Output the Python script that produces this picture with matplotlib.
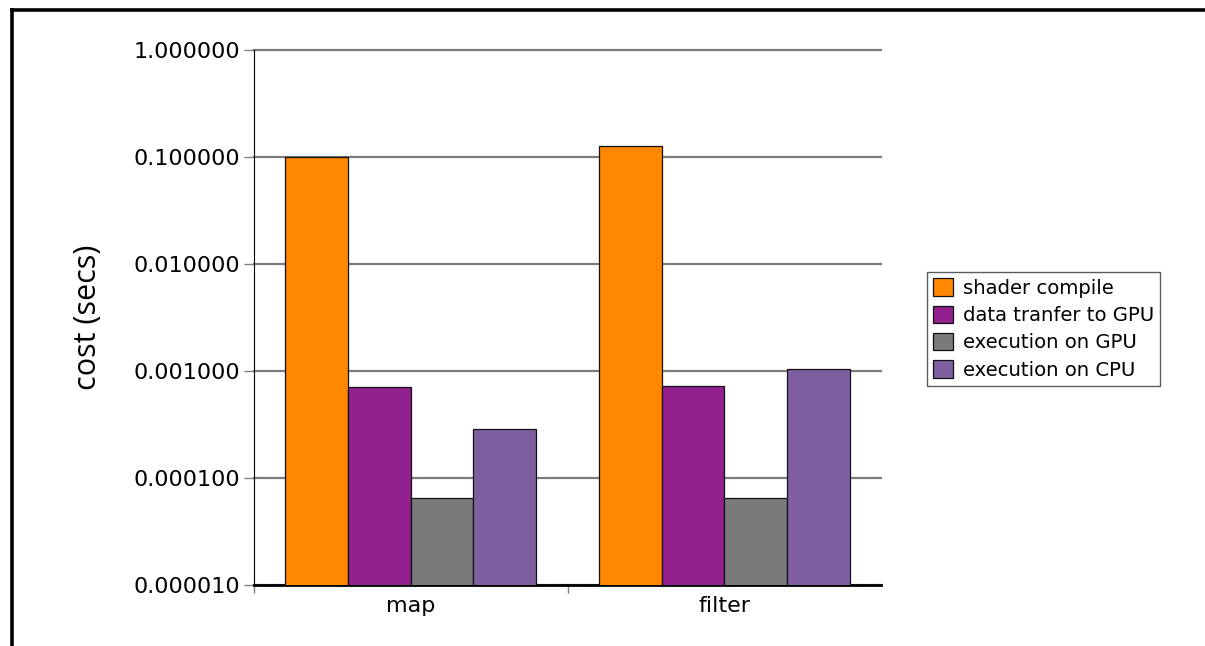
import numpy as np
import matplotlib
matplotlib.use("Agg")
import matplotlib.pyplot as plt
from matplotlib.lines import Line2D
from matplotlib.ticker import FixedLocator, FormatStrFormatter, NullLocator

categories = ["map", "filter"]
series_names = ["shader compile", "data tranfer to GPU", "execution on GPU", "execution on CPU"]
shader_compile = [0.101, 0.126]
data_transfer = [0.000715, 0.000729]
exec_gpu = [0.000065, 0.000065]
exec_cpu = [0.00029, 0.00105]
colors = ["#ff8800", "#92208f", "#7a7a7a", "#7f5fa2"]

fig = plt.figure(figsize=(12.05, 6.46), dpi=100)
ax = fig.add_axes([254 / 1205, 61 / 646, 627 / 1205, 535 / 646])

x = np.arange(len(categories))
width = 0.2
values = [shader_compile, data_transfer, exec_gpu, exec_cpu]
for i, (vals, name, c) in enumerate(zip(values, series_names, colors)):
    ax.bar(x + (i - 1.5) * width, vals, width, color=c, edgecolor="#111111",
           linewidth=0.9, label=name, log=True, zorder=3)

ax.set_yscale("log")
ax.set_ylim(1e-5, 1)
ax.set_xlim(-0.5, 1.5)

ax.yaxis.set_major_locator(FixedLocator([1e-5, 1e-4, 1e-3, 1e-2, 1e-1, 1]))
ax.yaxis.set_minor_locator(NullLocator())
ax.yaxis.set_major_formatter(FormatStrFormatter("%.6f"))
ax.grid(axis="y", color="#7c7c7c", linewidth=1.6, zorder=0)
for gl in ax.get_ygridlines():
    gl.set_clip_on(False)
ax.tick_params(axis="y", direction="out", length=7, width=1, color="#808080",
               labelsize=16, pad=3)

ax.set_xticks(x)
ax.set_xticklabels(categories)
ax.set_xticks([-0.5, 0.5], minor=True)
ax.tick_params(axis="x", which="major", length=0, labelsize=16, pad=8)
ax.tick_params(axis="x", which="minor", length=6, width=1, color="#808080")

for s in ["top", "right"]:
    ax.spines[s].set_visible(False)
ax.spines["left"].set_linewidth(0.8)
ax.spines["bottom"].set_linewidth(2.0)

fig.text(88 / 1205, 1 - 317 / 646, "cost (secs)", rotation=90, ha="center",
         va="center", fontsize=22, family="Open Sans")

leg = fig.legend(loc="upper left", bbox_to_anchor=(927 / 1205, 1 - 272 / 646),
                 fontsize=14.1, frameon=True, fancybox=False, borderaxespad=0,
                 handlelength=1.0, handleheight=1.0, handletextpad=0.5,
                 labelspacing=0.4, borderpad=0.32)
leg.get_frame().set_edgecolor("#333333")
leg.get_frame().set_linewidth(1.0)

# outer frame: top and left edges
fig.add_artist(Line2D([11.5 / 1205, 1], [1 - 9.5 / 646, 1 - 9.5 / 646],
                      transform=fig.transFigure, color="black", linewidth=2.6))
fig.add_artist(Line2D([11.5 / 1205, 11.5 / 1205], [0, 1 - 9.5 / 646],
                      transform=fig.transFigure, color="black", linewidth=2.6))

fig.savefig("out.png", dpi=100)
